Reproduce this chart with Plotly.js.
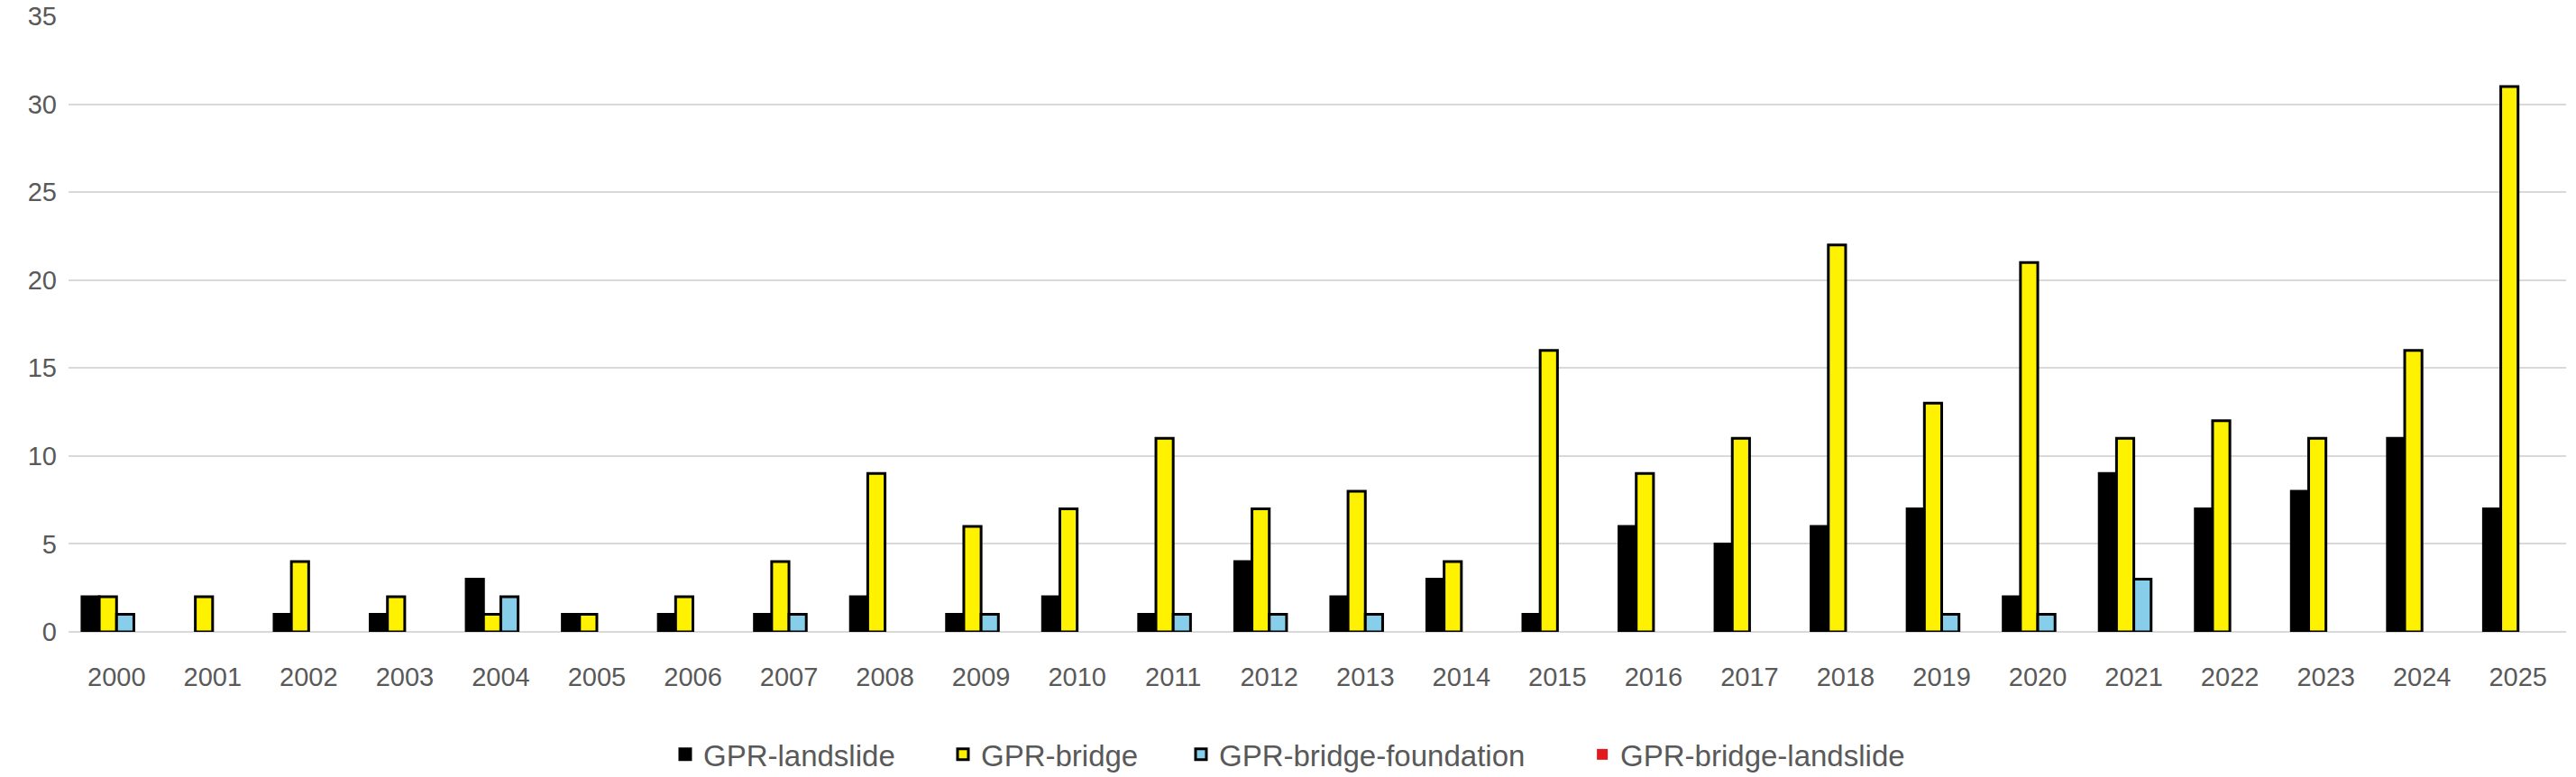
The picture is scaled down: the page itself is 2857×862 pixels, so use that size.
<!DOCTYPE html>
<html>
<head>
<meta charset="utf-8">
<script src="https://cdn.plot.ly/plotly-3.0.1.min.js"></script>
<style>html,body{margin:0;padding:0;background:#fff;}#chart{width:2857px;height:862px;}</style>
</head>
<body>
<div id="chart"></div>
<script>
const years = ["2000","2001","2002","2003","2004","2005","2006","2007","2008","2009","2010","2011","2012","2013","2014","2015","2016","2017","2018","2019","2020","2021","2022","2023","2024","2025"];
const landslide = [2,0,1,1,3,1,1,1,2,1,2,1,4,2,3,1,6,5,6,7,2,9,7,8,11,7];
const bridge = [2,2,4,2,1,1,2,4,9,6,7,11,7,8,4,16,9,11,22,13,21,11,12,11,16,31];
const bridgeFoundation = [1,0,0,0,2,0,0,1,0,1,0,1,1,1,0,0,0,0,0,1,1,3,0,0,0,0];
const bridgeLandslide = [0,0,0,0,0,0,0,0,0,0,0,0,0,0,0,0,0,0,0,0,0,0,0,0,0,0];
const yTicks = [0,5,10,15,20,25,30,35];

const names = ["GPR-landslide","GPR-bridge","GPR-bridge-foundation","GPR-bridge-landslide"];
const colors = ["#000000","#FFF200","#87CEEB","#E31A1C"];
const series = [landslide, bridge, bridgeFoundation, bridgeLandslide];
const legendIds = ["legend","legend2","legend3","legend4"];
const legendX = [0.2397, 0.3509, 0.4462, 0.6069];

const traces = series.map((vals, i) => ({
  type: "bar",
  name: names[i],
  legend: legendIds[i],
  x: years,
  y: vals,
  marker: {color: colors[i], line: {color: "#000000", width: vals.map(v => v === 0 ? 0 : 3)}},
  hoverinfo: "x+y+name"
}));

const font = {family: "Liberation Sans, Arial, sans-serif", size: 29, color: "#595959"};
const legFont = {family: "Liberation Sans, Arial, sans-serif", size: 33, color: "#595959"};

const layout = {
  width: 2857, height: 862,
  margin: {l: 76, r: 11, t: 18, b: 161, autoexpand: false},
  paper_bgcolor: "#ffffff",
  plot_bgcolor: "#ffffff",
  barmode: "group",
  bargap: 0.28,
  bargroupgap: 0,
  font: font,
  showlegend: true,
  xaxis: {
    type: "category",
    tickfont: font,
    showgrid: false,
    showline: false,
    zeroline: false,
    ticks: "",
    automargin: false,
    ticklabelstandoff: 30
  },
  yaxis: {
    range: [0, 35],
    tickvals: yTicks,
    ticktext: yTicks.map(String),
    tickfont: font,
    showgrid: true,
    gridcolor: "#d9d9d9",
    gridwidth: 2,
    zeroline: true,
    zerolinecolor: "#d9d9d9",
    zerolinewidth: 2,
    showline: false,
    ticks: "",
    automargin: false,
    ticklabelstandoff: 12
  }
};
legendIds.forEach((id, i) => {
  layout[id] = {
    orientation: "h",
    x: legendX[i], xanchor: "left",
    y: -0.199, yanchor: "middle",
    font: legFont,
    itemwidth: 30,
    bgcolor: "rgba(0,0,0,0)"
  };
});

Plotly.newPlot("chart", traces, layout, {displayModeBar: false, staticPlot: true});
</script>
</body>
</html>
